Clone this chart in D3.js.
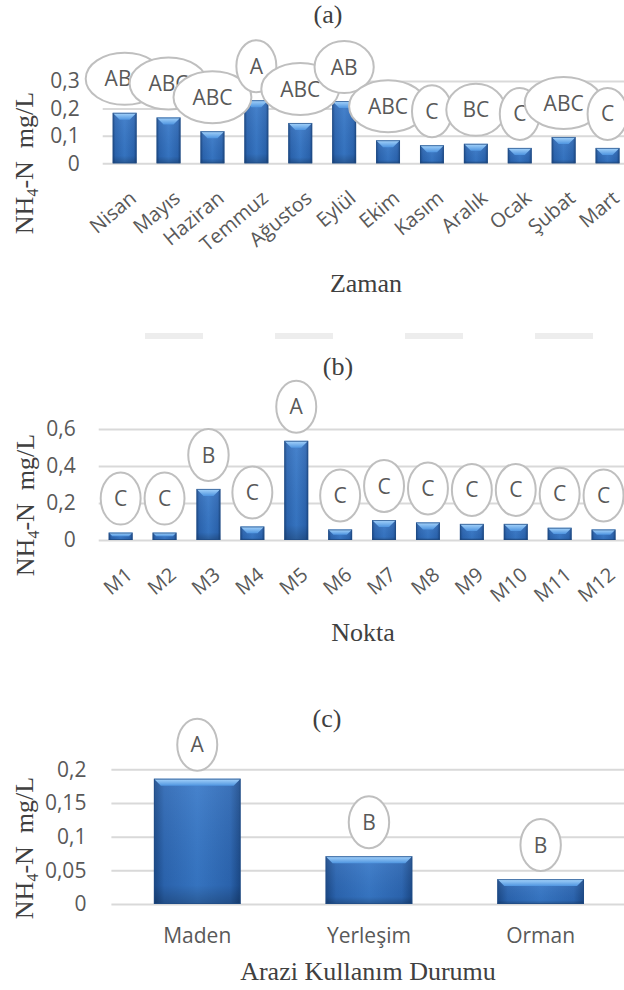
<!DOCTYPE html>
<html>
<head>
<meta charset="utf-8">
<script src="https://cdn.jsdelivr.net/npm/d3@7/dist/d3.min.js"></script>
<style>
  html, body { margin: 0; padding: 0; background: #ffffff; }
  svg { display: block; }
</style>
</head>
<body>
<svg id="chart" width="624" height="990"></svg>
<script>
// ---- data: (a) monthly means ----
const months = ["Nisan", "Mayıs", "Haziran", "Temmuz", "Ağustos", "Eylül", "Ekim", "Kasım", "Aralık", "Ocak", "Şubat", "Mart"];
const monthValues = [0.184, 0.167, 0.117, 0.230, 0.147, 0.227, 0.084, 0.066, 0.071, 0.056, 0.096, 0.056];
const monthGroups = ["ABC", "ABC", "ABC", "A", "ABC", "AB", "ABC", "C", "BC", "C", "ABC", "C"];
const monthTicks = [0, 0.1, 0.2, 0.3];

// ---- data: (b) sampling points ----
const points = ["M1", "M2", "M3", "M4", "M5", "M6", "M7", "M8", "M9", "M10", "M11", "M12"];
const pointValues = [0.040, 0.040, 0.276, 0.073, 0.536, 0.057, 0.108, 0.095, 0.087, 0.087, 0.066, 0.057];
const pointGroups = ["C", "C", "B", "C", "A", "C", "C", "C", "C", "C", "C", "C"];
const pointTicks = [0, 0.2, 0.4, 0.6];

// ---- data: (c) land use ----
const landUse = ["Maden", "Yerleşim", "Orman"];
const landValues = [0.186, 0.071, 0.037];
const landGroups = ["A", "B", "B"];
const landTicks = [0, 0.05, 0.1, 0.15, 0.2];

const svg = d3.select("#chart");
const SERIF = "'Liberation Serif', 'Times New Roman', serif";
const SANS = "'Open Sans', 'Noto Sans', sans-serif";
const fmt = v => String(v).replace(".", ",");

// ---- gradients for the bevelled bars ----
const defs = svg.append("defs");
const bodyGrad = defs.append("linearGradient").attr("id", "barBody").attr("x1", 0).attr("x2", 1).attr("y1", 0).attr("y2", 0);
[[0, "#1b4a8a"], [0.12, "#2c67b4"], [0.5, "#3879c9"], [0.88, "#2c67b4"], [1, "#1b4a8a"]]
  .forEach(([o, c]) => bodyGrad.append("stop").attr("offset", o).attr("stop-color", c));
const shadeGrad = defs.append("linearGradient").attr("id", "barShade").attr("x1", 0).attr("x2", 0).attr("y1", 0).attr("y2", 1);
[[0, "#ffffff", 0.08], [0.85, "#000000", 0.05], [1, "#000000", 0.25]]
  .forEach(([o, c, a]) => shadeGrad.append("stop").attr("offset", o).attr("stop-color", c).attr("stop-opacity", a));
const capGrad = defs.append("linearGradient").attr("id", "barTop").attr("x1", 0).attr("x2", 0).attr("y1", 0).attr("y2", 1);
[[0, "#a9d6fc"], [1, "#4f95e0"]]
  .forEach(([o, c]) => capGrad.append("stop").attr("offset", o).attr("stop-color", c));

// faint dashed rule between the first two panels
svg.append("line")
  .attr("x1", 145).attr("x2", 624).attr("y1", 336).attr("y2", 336)
  .attr("stroke", "#ededed").attr("stroke-width", 6)
  .attr("stroke-dasharray", "58 72");

function drawPanel(cfg) {
  const g = svg.append("g");
  const x = d3.scaleBand().domain(cfg.cats).range(cfg.xRange)
    .paddingInner(cfg.pad).paddingOuter(cfg.pad / 2);
  const y = d3.scaleLinear().domain([0, cfg.ticks[cfg.ticks.length - 1]]).range(cfg.yRange);
  const y0 = y(0);

  // gridlines
  const grid = g.append("g").attr("transform", `translate(${cfg.xRange[0]},0)`)
    .call(d3.axisLeft(y).tickValues(cfg.ticks).tickSize(-(cfg.xRange[1] - cfg.xRange[0])).tickFormat(""));
  grid.select(".domain").remove();
  grid.selectAll(".tick line").attr("stroke", "#d9d9d9").attr("stroke-width", 2);

  // value axis labels
  const ax = g.append("g").attr("transform", `translate(${cfg.xRange[0]},0)`)
    .call(d3.axisLeft(y).tickValues(cfg.ticks).tickSize(0).tickPadding(cfg.tickPad).tickFormat(fmt));
  ax.select(".domain").remove();
  ax.selectAll("text").attr("font-family", SANS).attr("font-size", 21).attr("fill", "#595959");

  // bars
  const bw = x.bandwidth();
  const bars = g.append("g").selectAll("g").data(cfg.cats).join("g");
  bars.each(function (d, i) {
    const v = cfg.values[i];
    const bx = x(d), by = y(v), bh = y0 - y(v);
    const b = Math.min(7, bh / 2);
    const s = d3.select(this);
    s.append("rect").attr("x", bx).attr("y", by).attr("width", bw).attr("height", bh)
      .attr("fill", "url(#barBody)");
    s.append("rect").attr("x", bx).attr("y", by).attr("width", bw).attr("height", bh)
      .attr("fill", "url(#barShade)");
    s.append("polygon")
      .attr("points", [[bx, by], [bx + bw, by], [bx + bw - b, by + b], [bx + b, by + b]].map(p => p.join(",")).join(" "))
      .attr("fill", "url(#barTop)");
    s.append("rect").attr("x", bx + 0.5).attr("y", by + 0.5).attr("width", bw - 1).attr("height", Math.max(0, bh - 1))
      .attr("fill", "none").attr("stroke", "#1f4b85").attr("stroke-width", 1).attr("stroke-opacity", 0.7);
  });

  // group letters in ellipse callouts
  const labels = g.append("g");
  cfg.cats.forEach((d, i) => {
    const cx = x(d) + bw / 2;
    const cy = y(cfg.values[i]) - 34;
    const lg = labels.append("g");
    const el = lg.append("ellipse").attr("cx", cx).attr("cy", cy).attr("ry", 26)
      .attr("fill", "#ffffff").attr("stroke", "#bfbfbf").attr("stroke-width", 2);
    const t = lg.append("text").attr("x", cx).attr("y", cy).attr("dy", "0.36em")
      .attr("text-anchor", "middle").attr("font-family", SANS).attr("font-size", 21)
      .attr("fill", "#595959").text(cfg.groups[i]);
    const tw = t.node().getComputedTextLength();
    el.attr("rx", (tw / 2 + 7.5) * Math.SQRT2);
  });

  // category labels
  const cl = g.append("g").selectAll("text").data(cfg.cats).join("text")
    .attr("font-family", SANS).attr("fill", "#595959").text(d => d);
  if (cfg.rotate) {
    cl.attr("text-anchor", "end").attr("font-size", 20)
      .attr("transform", d => `translate(${x(d) + bw / 2 + 13},${y0 + 37}) rotate(-40)`);
  } else {
    cl.attr("text-anchor", "middle").attr("font-size", 21)
      .attr("x", d => x(d) + bw / 2).attr("y", y0 + 39);
  }

  // panel title
  g.append("text").attr("x", cfg.title[1]).attr("y", cfg.title[2]).attr("text-anchor", "middle")
    .attr("font-family", SERIF).attr("font-size", 26).attr("fill", "#404040").text(cfg.title[0]);

  // axis titles
  g.append("text").attr("x", cfg.xTitle[1]).attr("y", cfg.xTitle[2]).attr("text-anchor", "middle")
    .attr("font-family", SERIF).attr("font-size", 26).attr("fill", "#404040").text(cfg.xTitle[0]);

  const yt = g.append("text").attr("text-anchor", "middle")
    .attr("transform", `translate(${cfg.yTitle[0]},${cfg.yTitle[1]}) rotate(-90)`)
    .attr("font-family", SERIF).attr("font-size", 26).attr("fill", "#404040");
  yt.append("tspan").text("NH");
  yt.append("tspan").attr("font-size", 16).attr("dy", 5).text("4");
  yt.append("tspan").attr("dy", -5).text("-N\u00a0\u00a0mg/L");
}

drawPanel({
  cats: months, values: monthValues, groups: monthGroups, ticks: monthTicks,
  xRange: [102.7, 629.5], yRange: [163.3, 81], pad: 0.455, tickPad: 23, rotate: true,
  title: ["(a)", 328, 23], xTitle: ["Zaman", 366, 292], yTitle: [33, 163]
});

drawPanel({
  cats: points, values: pointValues, groups: pointGroups, ticks: pointTicks,
  xRange: [98.7, 625.5], yRange: [540, 429], pad: 0.455, tickPad: 23, rotate: true,
  title: ["(b)", 338, 375], xTitle: ["Nokta", 363, 641], yTitle: [34, 505]
});

drawPanel({
  cats: landUse, values: landValues, groups: landGroups, ticks: landTicks,
  xRange: [111.4, 626.5], yRange: [904, 769.3], pad: 0.495, tickPad: 25, rotate: false,
  title: ["(c)", 327, 727], xTitle: ["Arazi Kullanım Durumu", 368, 980], yTitle: [33, 848]
});
</script>
</body>
</html>
